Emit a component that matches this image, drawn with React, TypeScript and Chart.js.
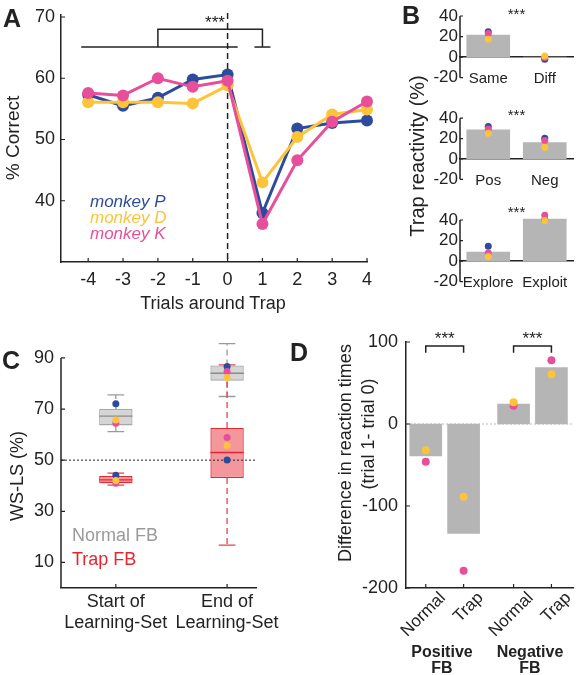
import React, { useEffect, useRef } from 'react';
import { Chart, registerables } from 'chart.js';

Chart.register(...registerables);

const W = 577;
const H = 675;
const FONT = '"Liberation Sans", Arial, Helvetica, sans-serif';
const INK = '#222222';
const BLUE = '#2D4B9E';
const YELLOW = '#FDC43A';
const PINK = '#E84F9A';
const BAR_GRAY = '#B5B5B5';
const NORMAL_GRAY = '#9A9A9A';
const TRAP_RED = '#E5262F';

Chart.defaults.font.family = FONT;

// ---------- Panel A : % correct around trap ----------
const trialOffsets = [-4, -3, -2, -1, 0, 1, 2, 3, 4];
const monkeyP = [57.3, 55.5, 56.8, 59.8, 60.6, 38.0, 51.8, 52.7, 53.1];
const monkeyD = [56.1, 56.1, 56.1, 55.9, 58.8, 43.0, 50.4, 54.1, 54.9];
const monkeyK = [57.6, 57.2, 60.0, 58.6, 59.6, 36.2, 46.6, 52.9, 56.2];
const yTicksA = [40, 50, 60, 70];

// ---------- Panel B : trap reactivity ----------
const bTicks = [-20, 0, 20, 40];
const b1Cats = ['Same', 'Diff'];
const b1Bars = [21.5, 0];
const b1P = [24.8, -2.0];
const b1D = [17.4, 1.2];
const b1K = [23.0, -0.4];
const b2Cats = ['Pos', 'Neg'];
const b2Bars = [28.5, 16.0];
const b2P = [31.8, 20.4];
const b2D = [25.3, 11.5];
const b2K = [29.5, 18.0];
const b3Cats = ['Explore', 'Exploit'];
const b3Bars = [8.8, 41.0];
const b3P = [14.4, 40.3];
const b3D = [4.6, 39.4];
const b3K = [7.9, 44.6];

// ---------- Panel C : WS-LS box plots ----------
const cPositions = [1, 2];
const cLabels = [['Start of', 'Learning-Set'], ['End of', 'Learning-Set']];
const cTicks = [10, 30, 50, 70, 90];
const normalQ1 = [63.6, 81.1];
const normalMed = [67.2, 84.0];
const normalQ3 = [70.0, 87.0];
const normalLow = [61.2, 74.9];
const normalHigh = [75.5, 95.6];
const trapQ1 = [41.0, 43.0];
const trapMed = [42.3, 53.0];
const trapQ3 = [43.8, 62.6];
const trapLow = [40.2, 16.8];
const trapHigh = [44.9, 87.3];
const cNormalP = [72.1, 86.6];
const cNormalD = [65.7, 82.3];
const cNormalK = [64.4, 84.7];
const cTrapP = [44.1, 50.1];
const cTrapD = [42.0, 55.7];
const cTrapK = [41.0, 58.9];

// ---------- Panel D : reaction time differences ----------
const dPositions = [1, 2, 3.32, 4.32];
const dLabels = ['Normal', 'Trap', 'Normal', 'Trap'];
const dTicks = [-200, -100, 0, 100];
const dMeans = [-39, -133.3, 24.4, 68.7];
const dMonkeyD = [-32, -88.6, 26.5, 60.6];
const dMonkeyK = [-46, -179, 22.3, 77.7];

// ---------- helpers ----------
function baseOptions(top: number, right: number, bottom: number) {
  return {
    animation: false as const,
    responsive: false,
    maintainAspectRatio: false,
    events: [] as any[],
    layout: { padding: { left: 0, top, right: W - right, bottom } },
    plugins: { legend: { display: false }, tooltip: { enabled: false } },
  };
}

function fixPad(s: any) {
  s.paddingTop = 0;
  s.paddingBottom = 0;
  s.paddingLeft = 0;
  s.paddingRight = 0;
}

function yAxis(min: number, max: number, ticks: number[], width: number, pad: number, size: number, border = true) {
  return {
    type: 'linear' as const,
    min,
    max,
    grid: { display: false, drawTicks: false },
    border: { display: border, color: INK, width: 1.5 },
    afterBuildTicks: (s: any) => { s.ticks = ticks.map((v) => ({ value: v })); },
    afterFit: (s: any) => { s.width = width; fixPad(s); },
    ticks: { color: INK, padding: pad, autoSkip: false, font: { family: FONT, size }, callback: (v: any) => String(v) },
  };
}

function inTicks(chart: any, axis: 'x' | 'y', values: number[], len: number) {
  const s = chart.scales[axis];
  const a = chart.chartArea;
  const ctx = chart.ctx;
  ctx.save();
  ctx.strokeStyle = INK;
  ctx.lineWidth = 1.2;
  ctx.beginPath();
  values.forEach((v) => {
    const p = s.getPixelForValue(v);
    if (axis === 'x') { ctx.moveTo(p, a.bottom); ctx.lineTo(p, a.bottom - len); }
    else { ctx.moveTo(a.left, p); ctx.lineTo(a.left + len, p); }
  });
  ctx.stroke();
  ctx.restore();
}

function ySpine(chart: any, from: number, to: number) {
  const { ctx, chartArea: a, scales } = chart;
  ctx.save();
  ctx.strokeStyle = INK;
  ctx.lineWidth = 1.5;
  ctx.beginPath();
  ctx.moveTo(a.left, scales.y.getPixelForValue(from));
  ctx.lineTo(a.left, scales.y.getPixelForValue(to));
  ctx.stroke();
  ctx.restore();
}

function polyline(chart: any, pts: [number, number][], color: string, width: number, dash: number[] = []) {
  const { ctx, scales } = chart;
  ctx.save();
  ctx.strokeStyle = color;
  ctx.lineWidth = width;
  ctx.setLineDash(dash);
  ctx.beginPath();
  pts.forEach(([xv, yv], i) => {
    const px = scales.x.getPixelForValue(xv);
    const py = scales.y.getPixelForValue(yv);
    if (i === 0) ctx.moveTo(px, py); else ctx.lineTo(px, py);
  });
  ctx.stroke();
  ctx.restore();
}

function stars(chart: any, xv: number, yv: number, size: number) {
  const { ctx, scales } = chart;
  ctx.save();
  ctx.fillStyle = INK;
  ctx.font = `${size}px ${FONT}`;
  ctx.textAlign = 'center';
  ctx.textBaseline = 'middle';
  ctx.fillText('***', scales.x.getPixelForValue(xv), scales.y.getPixelForValue(yv));
  ctx.restore();
}

function dotSet(values: any[], color: string, radius: number, type: 'line' | 'scatter' = 'line') {
  return {
    type,
    data: values,
    showLine: false,
    pointRadius: radius,
    pointBackgroundColor: color,
    pointBorderWidth: 0,
    borderColor: color,
    backgroundColor: color,
    clip: false,
  } as any;
}

// ---------- Panel A ----------
function buildA(canvas: HTMLCanvasElement) {
  const L = 61, T = 15, R = 367, B = 262;
  const series = (vals: number[], color: string) => ({
    data: trialOffsets.map((x, i) => ({ x, y: vals[i] })),
    borderColor: color,
    backgroundColor: color,
    borderWidth: 3,
    pointRadius: 6,
    pointBackgroundColor: color,
    pointBorderWidth: 0,
    tension: 0,
    clip: false as any,
  });
  return new Chart(canvas, {
    type: 'line',
    data: { datasets: [series(monkeyK, PINK), series(monkeyD, YELLOW), series(monkeyP, BLUE)] },
    options: {
      ...baseOptions(T, R, 0),
      scales: {
        x: {
          type: 'linear', min: -4.78, max: 4, offset: false,
          grid: { display: false, drawTicks: false },
          border: { display: true, color: INK, width: 1.5 },
          afterBuildTicks: (s: any) => { s.ticks = trialOffsets.map((v) => ({ value: v })); },
          afterFit: (s: any) => { s.height = H - B; fixPad(s); },
          ticks: { color: INK, padding: 7, autoSkip: false, maxRotation: 0, font: { family: FONT, size: 18 }, callback: (v: any) => String(v) },
        },
        y: yAxis(30, 70.33, yTicksA, L, 6, 18),
      },
    } as any,
    plugins: [{
      id: 'decoA',
      beforeDatasetsDraw(chart: any) {
        const { ctx, chartArea: a, scales } = chart;
        const px = scales.x.getPixelForValue(0);
        ctx.save();
        ctx.strokeStyle = INK;
        ctx.lineWidth = 1.5;
        ctx.setLineDash([6, 4]);
        ctx.beginPath();
        ctx.moveTo(px, a.top - 2);
        ctx.lineTo(px, a.bottom);
        ctx.stroke();
        ctx.restore();
      },
      afterDraw(chart: any) {
        inTicks(chart, 'x', trialOffsets, 4);
        inTicks(chart, 'y', yTicksA, 4);
        polyline(chart, [[-4.2, 65.1], [0.29, 65.1]], INK, 1.5);
        polyline(chart, [[0.77, 65.1], [1.23, 65.1]], INK, 1.5);
        polyline(chart, [[-2, 65.1], [-2, 68], [1, 68], [1, 65.1]], INK, 1.5);
        stars(chart, -0.36, 68.9, 17);
      },
    }],
  });
}

// ---------- Panel B ----------
// y range extends a little above 40 so dots above the top tick stay visible; the spine is drawn from -20 to 40.
const B_MAX = 48;
const B_PX_PER_UNIT = 1.028;
function buildBFactory(top40: number, bottom: number, cats: string[], bars: number[], p: number[], d: number[], k: number[], starY: number) {
  return (canvas: HTMLCanvasElement) => {
    const L = 460, R = 576;
    const top = top40 - (B_MAX - 40) * B_PX_PER_UNIT;
    return new Chart(canvas, {
      type: 'bar',
      data: {
        labels: cats,
        datasets: [
          dotSet(d, YELLOW, 3.5),
          dotSet(k, PINK, 3.5),
          dotSet(p, BLUE, 3.5),
          { type: 'bar', data: bars, backgroundColor: BAR_GRAY, borderWidth: 0, barThickness: 43 } as any,
        ],
      },
      options: {
        ...baseOptions(top, R, H - bottom),
        scales: {
          x: {
            type: 'category', position: { y: 0 }, offset: true,
            grid: { display: false, drawTicks: false },
            border: { display: true, color: INK, width: 1.5 },
            afterFit: (s: any) => { fixPad(s); },
            ticks: { color: INK, padding: 12.5, autoSkip: false, maxRotation: 0, font: { family: FONT, size: 15 } },
          },
          y: yAxis(-20, B_MAX, bTicks, L, 2, 17, false),
        },
      } as any,
      plugins: [{
        id: 'decoB',
        afterDraw(chart: any) {
          ySpine(chart, -20, 40);
          inTicks(chart, 'y', bTicks, 3);
          stars(chart, 0.5, starY, 15);
        },
      }],
    });
  };
}
const buildB1 = buildBFactory(16, 77.7, b1Cats, b1Bars, b1P, b1D, b1K, 41.5);
const buildB2 = buildBFactory(118.3, 179.3, b2Cats, b2Bars, b2P, b2D, b2K, 42.5);
const buildB3 = buildBFactory(220, 281.7, b3Cats, b3Bars, b3P, b3D, b3K, 47);

// ---------- Panel C ----------
function buildC(canvas: HTMLCanvasElement) {
  const L = 61, T = 340, R = 256, B = 588;
  const pts = (vals: number[]) => cPositions.map((x, i) => ({ x, y: vals[i] }));
  const box = (q1: number[], q3: number[], fill: string, stroke: string) => ({
    type: 'bar',
    data: cPositions.map((x, i) => ({ x, y: [q1[i], q3[i]] })),
    backgroundColor: fill,
    borderColor: stroke,
    borderWidth: 1.3,
    borderSkipped: false,
    grouped: false,
    categoryPercentage: 1,
    barPercentage: 0.3,
  } as any);
  const datasets = [
    dotSet(pts(cNormalD), YELLOW, 3.5, 'scatter'),
    dotSet(pts(cNormalK), PINK, 3.5, 'scatter'),
    dotSet(pts(cNormalP), BLUE, 3.5, 'scatter'),
    dotSet(pts(cTrapD), YELLOW, 3.5, 'scatter'),
    dotSet(pts(cTrapK), PINK, 3.5, 'scatter'),
    dotSet(pts(cTrapP), BLUE, 3.5, 'scatter'),
    box(trapQ1, trapQ3, '#F4979D', TRAP_RED),
    box(normalQ1, normalQ3, '#D5D5D5', '#A6A6A6'),
  ];
  const TRAP_IDX = 6, NORMAL_IDX = 7;
  const halfW = (chart: any, idx: number, i: number) => chart.getDatasetMeta(idx).data[i].width / 2;
  const whiskers = (chart: any, idx: number, q1: number[], q3: number[], lo: number[], hi: number[], color: string) => {
    const { ctx, scales } = chart;
    cPositions.forEach((xv, i) => {
      const cap = halfW(chart, idx, i) / 2;
      const px = scales.x.getPixelForValue(xv);
      const y = (v: number) => scales.y.getPixelForValue(v);
      ctx.save();
      ctx.strokeStyle = color;
      ctx.lineWidth = 1.3;
      ctx.setLineDash([6, 4]);
      ctx.beginPath();
      ctx.moveTo(px, y(q3[i])); ctx.lineTo(px, y(hi[i]));
      ctx.moveTo(px, y(q1[i])); ctx.lineTo(px, y(lo[i]));
      ctx.stroke();
      ctx.setLineDash([]);
      ctx.beginPath();
      ctx.moveTo(px - cap, y(hi[i])); ctx.lineTo(px + cap, y(hi[i]));
      ctx.moveTo(px - cap, y(lo[i])); ctx.lineTo(px + cap, y(lo[i]));
      ctx.stroke();
      ctx.restore();
    });
  };
  const medians = (chart: any, idx: number, med: number[], color: string) => {
    const { ctx, scales } = chart;
    cPositions.forEach((xv, i) => {
      const hw = halfW(chart, idx, i);
      const px = scales.x.getPixelForValue(xv);
      const py = scales.y.getPixelForValue(med[i]);
      ctx.save();
      ctx.strokeStyle = color;
      ctx.lineWidth = 1.3;
      ctx.beginPath();
      ctx.moveTo(px - hw, py); ctx.lineTo(px + hw, py);
      ctx.stroke();
      ctx.restore();
    });
  };
  return new Chart(canvas, {
    type: 'bar',
    data: { datasets },
    options: {
      ...baseOptions(T, R, 0),
      scales: {
        x: {
          type: 'linear', min: 0.507, max: 2.26, offset: false,
          grid: { display: false, drawTicks: false },
          border: { display: true, color: INK, width: 1.5 },
          afterBuildTicks: (s: any) => { s.ticks = cPositions.map((v) => ({ value: v })); },
          afterFit: (s: any) => { s.height = H - B; fixPad(s); },
          ticks: {
            color: INK, padding: 3, autoSkip: false, maxRotation: 0, font: { family: FONT, size: 18 },
            callback: (_v: any, i: number) => cLabels[i],
          },
        },
        y: yAxis(0, 97, cTicks, L, 7, 18, false),
      },
    } as any,
    plugins: [{
      id: 'decoC',
      beforeDatasetsDraw(chart: any) {
        whiskers(chart, NORMAL_IDX, normalQ1, normalQ3, normalLow, normalHigh, NORMAL_GRAY);
        whiskers(chart, TRAP_IDX, trapQ1, trapQ3, trapLow, trapHigh, '#E8424B');
      },
      afterDatasetDraw(chart: any, args: any) {
        if (args.index === NORMAL_IDX) medians(chart, NORMAL_IDX, normalMed, '#8C8C8C');
        if (args.index === TRAP_IDX) {
          medians(chart, TRAP_IDX, trapMed, TRAP_RED);
          const { ctx, chartArea: a, scales } = chart;
          const py = scales.y.getPixelForValue(50);
          ctx.save();
          ctx.strokeStyle = INK;
          ctx.lineWidth = 1;
          ctx.setLineDash([2, 2]);
          ctx.beginPath();
          ctx.moveTo(a.left, py); ctx.lineTo(a.right, py);
          ctx.stroke();
          ctx.restore();
        }
      },
      afterDraw(chart: any) {
        ySpine(chart, 0, 90);
        inTicks(chart, 'y', cTicks, 4);
        inTicks(chart, 'x', cPositions, 4);
      },
    }],
  });
}

// ---------- Panel D ----------
function buildD(canvas: HTMLCanvasElement) {
  const L = 406, T = 342, R = 575, B = 588;
  const pts = (vals: number[]) => dPositions.map((x, i) => ({ x, y: vals[i] }));
  return new Chart(canvas, {
    type: 'bar',
    data: {
      datasets: [
        dotSet(pts(dMonkeyD), YELLOW, 4, 'scatter'),
        dotSet(pts(dMonkeyK), PINK, 4, 'scatter'),
        { type: 'bar', data: pts(dMeans), backgroundColor: BAR_GRAY, borderWidth: 0, barThickness: 32 } as any,
      ],
    },
    options: {
      ...baseOptions(T, R, 0),
      scales: {
        x: {
          type: 'linear', min: 0.478, max: 4.89, offset: false,
          grid: { display: false, drawTicks: false },
          border: { display: true, color: INK, width: 1.5 },
          afterBuildTicks: (s: any) => { s.ticks = dPositions.map((v) => ({ value: v })); },
          afterFit: (s: any) => { s.height = H - B; fixPad(s); },
          ticks: {
            color: INK, padding: 0, labelOffset: 17, autoSkip: false, minRotation: 45, maxRotation: 45,
            font: { family: FONT, size: 17 },
            callback: (_v: any, i: number) => dLabels[i],
          },
        },
        y: yAxis(-200, 100, dTicks, L, 8, 18),
      },
    } as any,
    plugins: [{
      id: 'decoD',
      beforeDatasetsDraw(chart: any) {
        const { ctx, chartArea: a, scales } = chart;
        const py = scales.y.getPixelForValue(0);
        ctx.save();
        ctx.strokeStyle = '#BDBDBD';
        ctx.lineWidth = 1;
        ctx.setLineDash([2, 2]);
        ctx.beginPath();
        ctx.moveTo(a.left, py); ctx.lineTo(a.right, py);
        ctx.stroke();
        ctx.restore();
      },
      afterDraw(chart: any) {
        inTicks(chart, 'y', dTicks, 4);
        inTicks(chart, 'x', dPositions, 4);
        polyline(chart, [[dPositions[0], 87], [dPositions[0], 95], [dPositions[1], 95], [dPositions[1], 87]], INK, 1.5);
        polyline(chart, [[dPositions[2], 87], [dPositions[2], 95], [dPositions[3], 95], [dPositions[3], 87]], INK, 1.5);
        stars(chart, (dPositions[0] + dPositions[1]) / 2, 103.5, 17);
        stars(chart, (dPositions[2] + dPositions[3]) / 2, 103.5, 17);
      },
    }],
  });
}

// ---------- components ----------
function ChartLayer({ build }: { build: (c: HTMLCanvasElement) => Chart }) {
  const ref = useRef<HTMLCanvasElement>(null);
  useEffect(() => {
    const ch = build(ref.current as HTMLCanvasElement);
    return () => ch.destroy();
  }, [build]);
  return <canvas ref={ref} width={W} height={H} style={{ position: 'absolute', left: 0, top: 0, width: W, height: H }} />;
}

type LabelProps = {
  x: number; y: number; size: number; color?: string; bold?: boolean; italic?: boolean;
  rotate?: boolean; align?: 'left' | 'center'; children: React.ReactNode;
};
function Label({ x, y, size, color = INK, bold, italic, rotate, align = 'center', children }: LabelProps) {
  const style: React.CSSProperties = {
    position: 'absolute', left: x, top: y, fontFamily: FONT, fontSize: size, lineHeight: 1, color,
    fontWeight: bold ? 'bold' : 'normal', fontStyle: italic ? 'italic' : 'normal', whiteSpace: 'nowrap',
    transform: `translate(${align === 'left' ? '0' : '-50%'}, -50%)${rotate ? ' rotate(-90deg)' : ''}`,
    transformOrigin: 'center',
  };
  return <div style={style}>{children}</div>;
}

export default function App() {
  return (
    <div style={{ position: 'absolute', left: 0, top: 0, width: W, height: H, background: '#fff', overflow: 'hidden' }}>
      <ChartLayer build={buildA} />
      <ChartLayer build={buildB1} />
      <ChartLayer build={buildB2} />
      <ChartLayer build={buildB3} />
      <ChartLayer build={buildC} />
      <ChartLayer build={buildD} />

      <Label x={12} y={18} size={25} bold>A</Label>
      <Label x={411} y={15} size={25} bold>B</Label>
      <Label x={11} y={360} size={25} bold>C</Label>
      <Label x={299} y={352} size={25} bold>D</Label>

      <Label x={12} y={138} size={19} rotate>% Correct</Label>
      <Label x={213} y={303} size={18}>Trials around Trap</Label>
      <Label x={90} y={201} size={17} italic color={BLUE} align="left">monkey P</Label>
      <Label x={90} y={217} size={17} italic color={YELLOW} align="left">monkey D</Label>
      <Label x={90} y={233} size={17} italic color={PINK} align="left">monkey K</Label>

      <Label x={417} y={156} size={20} rotate>Trap reactivity (%)</Label>

      <Label x={17} y={476} size={18} rotate>WS-LS (%)</Label>
      <Label x={72} y={535} size={18} color={NORMAL_GRAY} align="left">Normal FB</Label>
      <Label x={72} y={559} size={18} color={TRAP_RED} align="left">Trap FB</Label>

      <Label x={345} y={453} size={18} rotate>Difference in reaction times</Label>
      <Label x={368} y={434} size={18} rotate>(trial 1- trial 0)</Label>
      <Label x={442} y={652} size={16} bold>Positive</Label>
      <Label x={442} y={668} size={16} bold>FB</Label>
      <Label x={530} y={652} size={16} bold>Negative</Label>
      <Label x={530} y={668} size={16} bold>FB</Label>
    </div>
  );
}
